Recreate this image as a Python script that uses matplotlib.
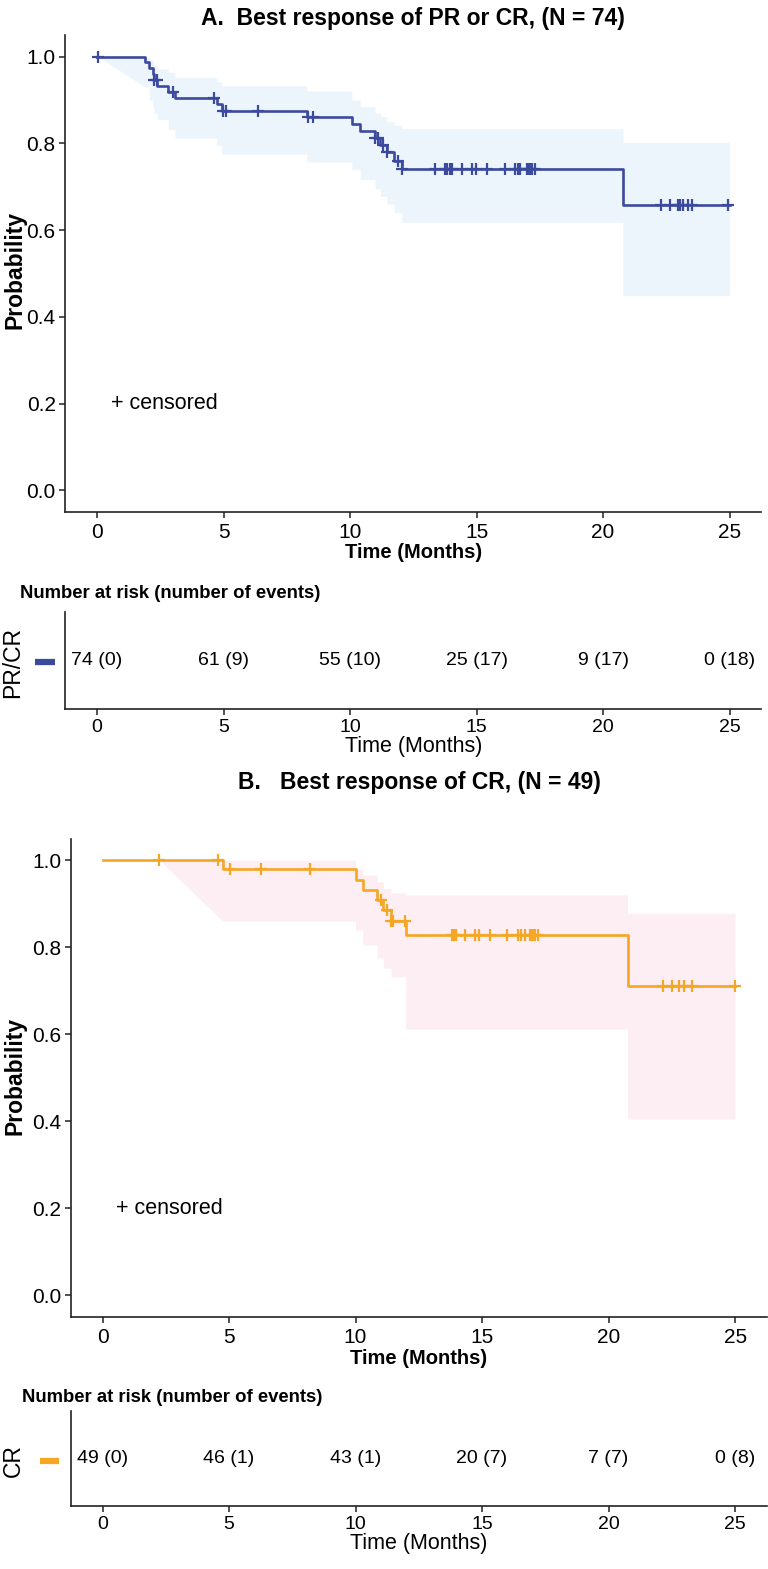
import numpy as np
import matplotlib
matplotlib.use("Agg")
import matplotlib.pyplot as plt

# ---------------- data ----------------
# Panel A: PR or CR (N = 74)
a_event_t = [1.90, 2.07, 2.20, 2.25, 2.38, 2.82, 3.08, 4.73, 4.93, 8.29,
             10.07, 10.40, 10.99, 11.20, 11.45, 11.75, 12.04, 20.78]
a_surv = [0.987, 0.973, 0.959, 0.946, 0.932, 0.918, 0.904, 0.890, 0.875, 0.860,
          0.844, 0.828, 0.812, 0.797, 0.780, 0.760, 0.741, 0.659]
a_ci_lo = [1.0, 0.930, 0.900, 0.885, 0.870, 0.855, 0.832, 0.812, 0.795, 0.775, 0.757,
           0.740, 0.717, 0.695, 0.678, 0.660, 0.640, 0.618, 0.449]
a_ci_hi = [1.0, 0.998, 0.993, 0.987, 0.980, 0.972, 0.964, 0.952, 0.942, 0.933, 0.921,
           0.900, 0.885, 0.870, 0.862, 0.850, 0.842, 0.834, 0.802]
a_censor_t = [0.05, 2.25, 2.36, 3.02, 4.62, 4.99, 5.09, 6.36, 8.32, 8.55,
              10.99, 11.12, 11.32, 11.45, 11.91, 12.04,
              13.36, 13.75, 13.85, 13.95, 14.02, 14.41, 14.81, 14.98, 15.43, 16.13,
              16.52, 16.62, 16.72, 16.98, 17.05, 17.12, 17.20, 17.31,
              22.30, 22.65, 22.98, 23.05, 23.17, 23.37, 23.50, 24.95]
a_risk_n = [74, 61, 55, 25, 9, 0]
a_risk_ev = [0, 9, 10, 17, 17, 18]

# Panel B: CR (N = 49)
b_event_t = [4.75, 10.00, 10.29, 10.85, 11.10, 11.40, 11.98, 20.75]
b_surv = [0.979, 0.955, 0.931, 0.908, 0.885, 0.860, 0.829, 0.711]
b_ci_lo = [1.0, 0.860, 0.839, 0.805, 0.775, 0.752, 0.732, 0.612, 0.405]
b_ci_hi = [1.0, 1.0, 0.980, 0.966, 0.950, 0.935, 0.925, 0.920, 0.878]
b_censor_t = [2.25, 4.55, 5.02, 6.25, 8.20, 11.00, 11.25, 11.40, 11.47, 11.94,
              13.82, 13.90, 13.96, 14.33, 14.74, 14.87, 15.32, 15.98, 16.42, 16.55,
              16.68, 16.88, 16.95, 17.02, 17.10, 17.20,
              22.17, 22.50, 22.80, 23.00, 23.30, 25.00]
b_risk_n = [49, 46, 43, 20, 7, 0]
b_risk_ev = [0, 1, 1, 7, 7, 8]

risk_times = [0, 5, 10, 15, 20, 25]
x_ticks = [0, 5, 10, 15, 20, 25]
y_ticks = [0.0, 0.2, 0.4, 0.6, 0.8, 1.0]
t_end = 25.0

A_COL = "#3C4A9E"
A_BAND = "#EDF5FC"
B_COL = "#F5A623"
B_BAND = "#FDEEF3"

REG = ["Liberation Sans", "DejaVu Sans"]
NAR = ["Liberation Sans Narrow", "Liberation Sans", "DejaVu Sans"]
SPINE = "#222222"

W, H = 768, 1569
fig = plt.figure(figsize=(W / 100, H / 100), dpi=100)


def fx(px):
    return px / W


def fy(px):
    return 1 - px / H


def band_arrays(events, lo, hi, first_censor):
    xs = [0.0, first_censor]
    ls = [lo[0], lo[0]]
    hs = [hi[0], hi[0]]
    xs.append(events[0]); ls.append(lo[1]); hs.append(hi[0])
    times = list(events) + [t_end]
    for i in range(len(events)):
        xs += [times[i], times[i + 1]]
        ls += [lo[i + 1], lo[i + 1]]
        hs += [hi[i + 1], hi[i + 1]]
    return np.array(xs), np.array(ls), np.array(hs)


def style_axes(ax):
    for s in ["top", "right"]:
        ax.spines[s].set_visible(False)
    for s in ["left", "bottom"]:
        ax.spines[s].set_color(SPINE)
        ax.spines[s].set_linewidth(1.2)
    ax.tick_params(axis="both", colors=SPINE, labelcolor="black", width=1.1, length=4)


def km_panel(ax, events, surv, lo, hi, censors, color, band):
    xs, ls, hs = band_arrays(events, lo, hi, censors[0])
    ax.fill_between(xs, ls, hs, color=band, lw=0, zorder=1)
    t = np.array([0.0] + list(events) + [t_end])
    s = np.array([1.0] + list(surv) + [surv[-1]])
    ax.step(t, s, where="post", color=color, lw=1.9, zorder=3)
    ct = np.array(censors)
    idx = np.searchsorted(t, ct, side="right") - 1
    cs = s[idx]
    ax.plot(ct, cs, ls="none", marker="+", ms=9, mew=1.6, color=color, zorder=4)
    ax.set_xlim(-1.25, 26.25)
    ax.set_ylim(-0.05, 1.05)
    ax.set_xticks(x_ticks)
    ax.set_yticks(y_ticks)
    ax.set_yticklabels([f"{v:.1f}" for v in y_ticks], family=REG, fontsize=15)
    ax.set_xticklabels([str(v) for v in x_ticks], family=REG, fontsize=15)
    ax.tick_params(axis="x", pad=4)
    ax.tick_params(axis="y", pad=3)
    ax.set_xlabel("Time (Months)", family=NAR, fontweight="bold", fontsize=14.5, labelpad=1)
    ax.text(0.55, 0.2, "+ censored", family=REG, fontsize=15.5, va="center", ha="left")
    style_axes(ax)


def risk_panel(ax, ns, evs):
    for t, n, e in zip(risk_times, ns, evs):
        ax.text(t, 0.5, f"{n} ({e})", ha="center", va="center", family=NAR, fontsize=14)
    ax.set_xlim(-1.25, 26.25)
    ax.set_ylim(0, 1)
    ax.set_xticks(x_ticks)
    ax.set_xticklabels([str(v) for v in x_ticks], family=NAR, fontsize=14)
    ax.set_yticks([])
    ax.set_xlabel("Time (Months)", family=NAR, fontsize=15.5, labelpad=0)
    style_axes(ax)


# Panel A
axA = fig.add_axes([fx(65.4), fy(512), fx(695.8), 477 / H])
km_panel(axA, a_event_t, a_surv, a_ci_lo, a_ci_hi, a_censor_t, A_COL, A_BAND)
fig.text(fx(15), fy(270), "Probability", rotation=90, ha="center", va="center",
         family=NAR, fontweight="bold", fontsize=16.5)
fig.text(fx(413), fy(18), "A.  Best response of PR or CR, (N = 74)", ha="center", va="center",
         family=NAR, fontweight="bold", fontsize=16.5)

axAr = fig.add_axes([fx(65.4), fy(709), fx(695.8), 97 / H])
risk_panel(axAr, a_risk_n, a_risk_ev)
fig.text(fx(20), fy(594), "Number at risk (number of events)", ha="left", va="center",
         family=NAR, fontweight="bold", fontsize=13.3)
fig.text(fx(13), fy(662), "PR/CR", rotation=90, ha="center", va="center", family=REG, fontsize=16.5)
fig.add_artist(plt.Line2D([fx(35), fx(55)], [fy(661.5), fy(661.5)], color=A_COL, lw=4.5,
                          solid_capstyle="butt"))

# Panel B
axB = fig.add_axes([fx(70.9), fy(1317), fx(695.8), 478.5 / H])
km_panel(axB, b_event_t, b_surv, b_ci_lo, b_ci_hi, b_censor_t, B_COL, B_BAND)
fig.text(fx(15), fy(1076), "Probability", rotation=90, ha="center", va="center",
         family=NAR, fontweight="bold", fontsize=16.5)
fig.text(fx(419), fy(782), "B.   Best response of CR, (N = 49)", ha="center", va="center",
         family=NAR, fontweight="bold", fontsize=16.5)

axBr = fig.add_axes([fx(70.9), fy(1506), fx(695.8), 95 / H])
risk_panel(axBr, b_risk_n, b_risk_ev)
fig.text(fx(22), fy(1397), "Number at risk (number of events)", ha="left", va="center",
         family=NAR, fontweight="bold", fontsize=13.3)
fig.text(fx(13), fy(1461), "CR", rotation=90, ha="center", va="center", family=REG, fontsize=16.5)
fig.add_artist(plt.Line2D([fx(40), fx(59)], [fy(1461), fy(1461)], color=B_COL, lw=4.5,
                          solid_capstyle="butt"))

fig.savefig("out.png", dpi=100)
